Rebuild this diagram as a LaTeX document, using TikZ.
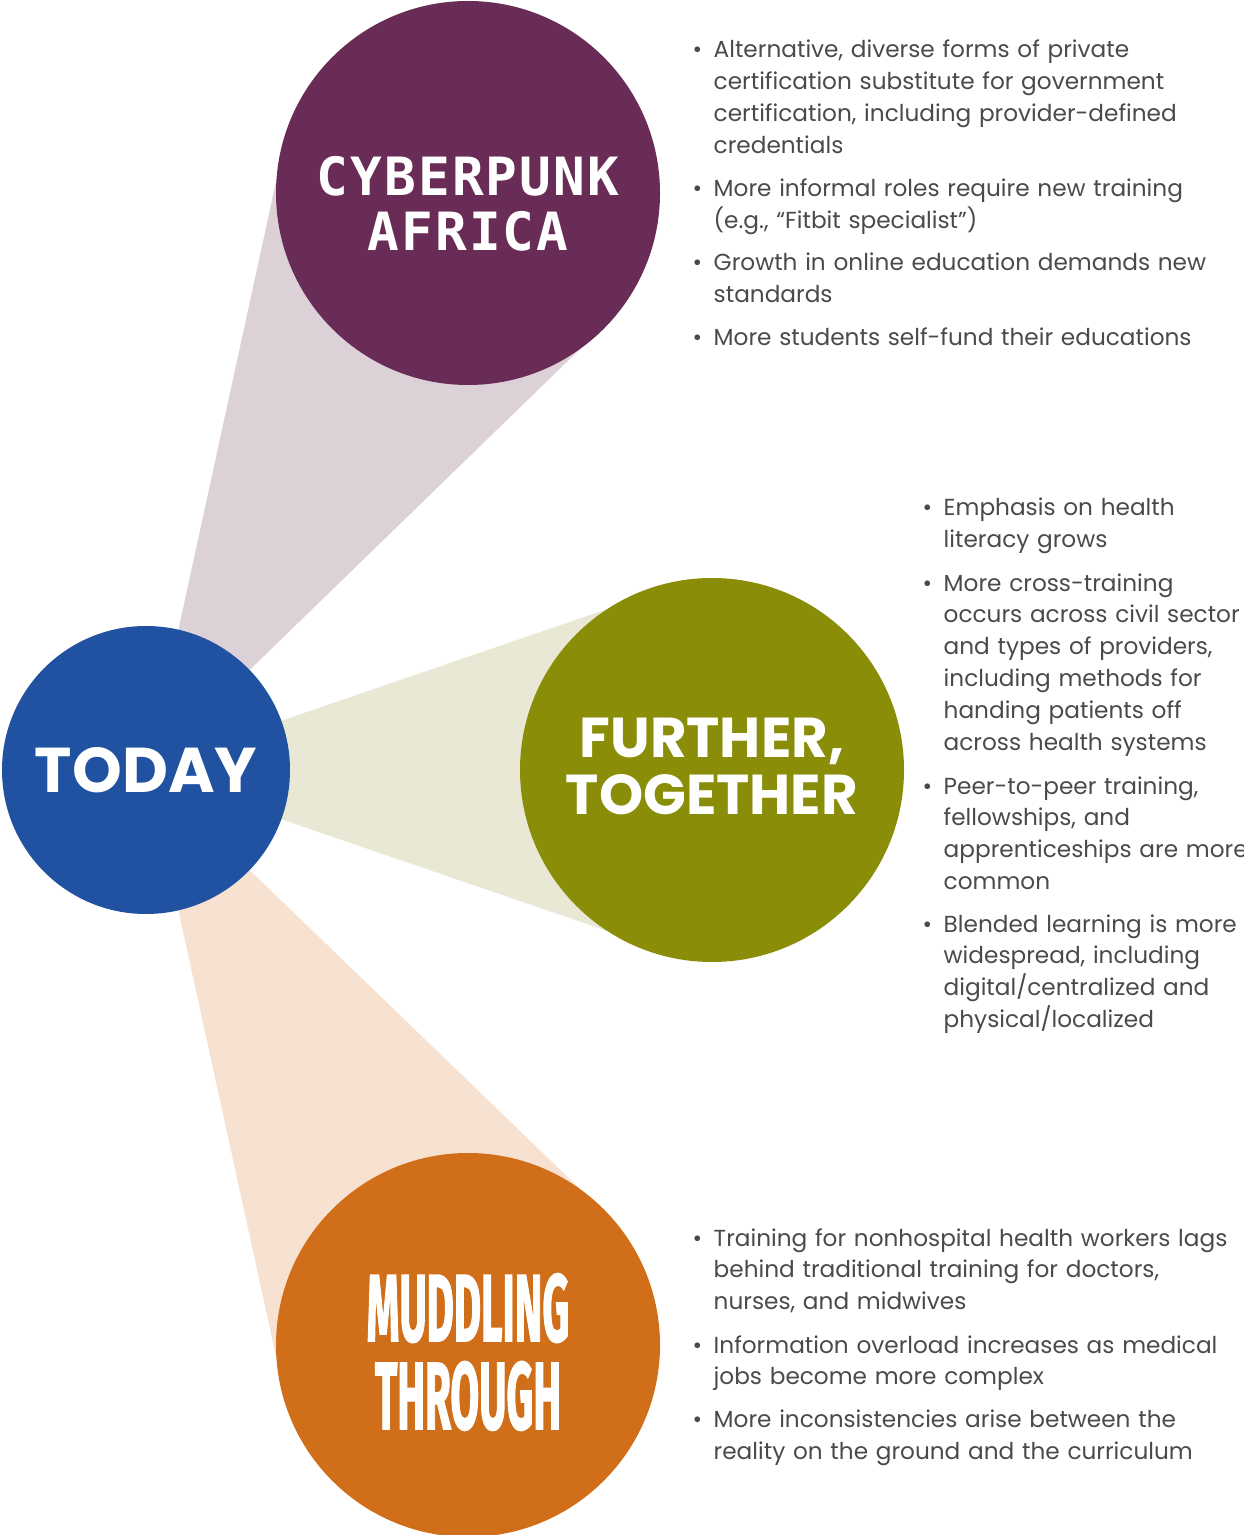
\documentclass[tikz,border=0pt]{standalone}
\usepackage{fontspec}
\usetikzlibrary{backgrounds}
\setmainfont{Poppins}
\newfontfamily\cyberfont{DejaVu Sans Mono}[LetterSpace=4]
\newfontfamily\muddlefont{Fira Sans}[BoldFeatures={FakeBold=2}]
\definecolor{todayblue}{HTML}{2052A1}
\definecolor{cyberpurple}{HTML}{682C56}
\definecolor{furtherolive}{HTML}{8A8D08}
\definecolor{muddleorange}{HTML}{D06E19}
\definecolor{beampurple}{HTML}{DDD1D8}
\definecolor{beamolive}{HTML}{E8E8D4}
\definecolor{beamorange}{HTML}{F7E2D1}
\definecolor{textgray}{HTML}{4A4A4A}
\newcommand\bitem{\llap{\textbullet\hspace{3.3pt}}}
\tikzset{
  disc/.style={circle, minimum size=#1, inner sep=0pt, outer sep=0pt},
  title/.style={text=white, align=center, inner sep=0pt},
  bullets/.style={anchor=base west, text width=60mm, align=left, inner sep=0pt,
    text=textgray, font=\fontsize{6.6}{9.1}\selectfont}
}
\begin{document}
\begin{tikzpicture}[x=0.1mm,y=-0.1mm]
\useasboundingbox (0,0) rectangle (1243,1535);

\node[disc=28.8mm, fill=todayblue, text=white, font=\fontsize{18}{20}\selectfont\bfseries] (today) at (146,770) {TODAY};
\node[disc=38.4mm, fill=cyberpurple] (cyber) at (468,193) {};
\node[disc=38.4mm, fill=furtherolive] (further) at (712,770) {};
\node[disc=38.4mm, fill=muddleorange] (muddle) at (468,1345) {};

\node[title, font=\cyberfont\fontsize{15}{15.6}\selectfont\bfseries] (cybertext) at (468,204) {CYBERPUNK\\AFRICA};
\node[title, font=\fontsize{16}{16.2}\selectfont\bfseries] (furthertext) at (712,766) {FURTHER,\\TOGETHER};
\node[title, font=\muddlefont\fontsize{27}{25}\selectfont\bfseries] (muddletext) at (468,1352) {\scalebox{0.44}[1]{MUDDLING}\\\scalebox{0.44}[1]{THROUGH}};

\begin{scope}[on background layer]
\fill[beampurple] (today.77) -- (cyber.176) -- (cyber.-54) -- (today.44) -- cycle;
\fill[beamolive] (today.20) -- (further.123) -- (further.237) -- (today.-20) -- cycle;
\fill[beamorange] (today.-77) -- (muddle.184) -- (muddle.54) -- (today.-44) -- cycle;
\end{scope}

\node[bullets] (cyberone) at (713,58) {\bitem Alternative, diverse forms of private\\certification substitute for government\\certification, including provider-defined\\credentials};
\node[bullets] (cybertwo) at (713,197) {\bitem More informal roles require new training\\(e.g., “Fitbit specialist”)};
\node[bullets] (cyberthree) at (713,271) {\bitem Growth in online education demands new\\standards};
\node[bullets] (cyberfour) at (713,346) {\bitem More students self-fund their educations};

\node[bullets] (furtherone) at (943,516) {\bitem Emphasis on health\\literacy grows};
\node[bullets] (furthertwo) at (943,591) {\bitem More cross-training\\occurs across civil sector\\and types of providers,\\including methods for\\handing patients off\\across health systems};
\node[bullets] (furtherthree) at (943,794) {\bitem Peer-to-peer training,\\fellowships, and\\apprenticeships are more\\common};
\node[bullets] (furtherfour) at (943,932) {\bitem Blended learning is more\\widespread, including\\digital/centralized and\\physical/localized};

\node[bullets] (muddleone) at (713,1246) {\bitem Training for nonhospital health workers lags\\behind traditional training for doctors,\\nurses, and midwives};
\node[bullets] (muddletwo) at (713,1353) {\bitem Information overload increases as medical\\jobs become more complex};
\node[bullets] (muddlethree) at (713,1427) {\bitem More inconsistencies arise between the\\reality on the ground and the curriculum};
\end{tikzpicture}
\end{document}
